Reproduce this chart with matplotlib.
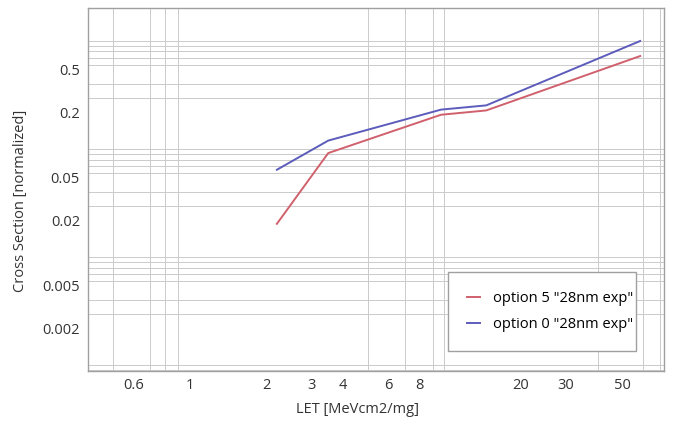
import numpy as np
import matplotlib
matplotlib.use("Agg")
import matplotlib.pyplot as plt
import matplotlib.ticker as mticker
import matplotlib.transforms as mtransforms

# data
let = [2.2, 3.5, 9.7, 14.6, 58.7]
opt5 = [0.0204, 0.092, 0.208, 0.228, 0.726]
opt0 = [0.0645, 0.120, 0.232, 0.254, 1.0]
labels = ['option 5 "28nm exp"', 'option 0 "28nm exp"']
xticks = [0.6, 1, 2, 3, 4, 6, 8, 20, 30, 50]
yticks = [0.002, 0.005, 0.02, 0.05, 0.2, 0.5]

plt.rcParams['font.family'] = ['Open Sans', 'DejaVu Sans']
plt.rcParams['font.size'] = 10.5

fig = plt.figure(figsize=(6.74, 4.22), dpi=100)
ax = fig.add_axes([0.131, 0.121, 0.8546, 0.859])

l5, = ax.plot(let, opt5, color='#d0606c', lw=1.4)
l0, = ax.plot(let, opt0, color='#5c5cbc', lw=1.4)

ax.set_xscale('log')
ax.set_yscale('log')
ax.set_xlim(0.40, 73)
ax.set_ylim(0.00089, 2.0)

# grid at every 1..9 x 10^k
ax.xaxis.set_major_locator(mticker.FixedLocator(xticks))
ax.xaxis.set_major_formatter(mticker.FixedFormatter([str(t) for t in xticks]))
ax.xaxis.set_minor_locator(mticker.LogLocator(base=10, subs=np.arange(1, 10)))
ax.yaxis.set_major_locator(mticker.FixedLocator(yticks))
ax.yaxis.set_major_formatter(mticker.FixedFormatter([str(t) for t in yticks]))
ax.yaxis.set_minor_locator(mticker.LogLocator(base=10, subs=np.arange(1, 10)))
ax.xaxis.set_minor_formatter(mticker.NullFormatter())
ax.yaxis.set_minor_formatter(mticker.NullFormatter())
ax.grid(False)
ax.grid(which='minor', color='#cbcbcb', lw=0.7)
ax.set_axisbelow(True)
ax.tick_params(which='both', length=0, colors='#333333')
ax.tick_params(axis='x', pad=5)
ax.tick_params(axis='y', pad=6)
for lab in ax.get_yticklabels():
    lab.set_transform(lab.get_transform() + mtransforms.ScaledTranslation(0, 4 / 100, fig.dpi_scale_trans))
for s in ax.spines.values():
    s.set_color('#a0a0a0')
    s.set_linewidth(1.0)

ax.set_xlabel('LET [MeVcm2/mg]', color='#333333')
ax.xaxis.set_label_coords(0.467, -0.085)
ax.set_ylabel('Cross Section [normalized]', color='#333333')
ax.yaxis.set_label_coords(-0.104, 0.47)

leg = ax.legend([l5, l0], labels, loc='upper left',
                bbox_to_anchor=(448 / 674, (422 - 272) / 422, 188 / 674, 0.0),
                bbox_transform=fig.transFigure, mode='expand',
                handlelength=0.9, handletextpad=0.9, labelspacing=0.78,
                borderpad=1.3, borderaxespad=0, fancybox=False,
                framealpha=1, fontsize=10.5)
leg.get_frame().set_edgecolor('#a0a0a0')
leg.get_frame().set_linewidth(1.0)

fig.savefig('out.png', dpi=100)
